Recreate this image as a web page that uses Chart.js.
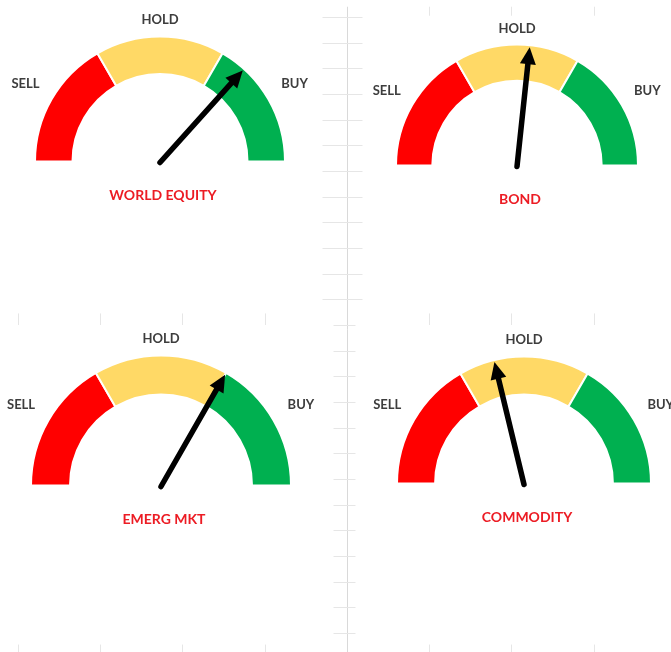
<!DOCTYPE html>
<html>
<head>
<meta charset="utf-8">
<title>Market signals</title>
<script src="https://cdn.jsdelivr.net/npm/chart.js@4.4.1/dist/chart.umd.min.js"></script>
<style>
  html, body { margin: 0; padding: 0; background: #fff; }
  #board { position: relative; width: 671px; height: 652px; overflow: hidden; }
  #board canvas { position: absolute; left: 0; top: 0; }
</style>
</head>
<body>
<div id="board">
  <canvas id="sheet" width="671" height="652"></canvas>
  <canvas id="gauge0" width="671" height="652"></canvas>
  <canvas id="gauge1" width="671" height="652"></canvas>
  <canvas id="gauge2" width="671" height="652"></canvas>
  <canvas id="gauge3" width="671" height="652"></canvas>
</div>
<script>
var gaugeTitles = ['WORLD EQUITY', 'BOND', 'EMERG MKT', 'COMMODITY'];
var zoneLabels = ['SELL', 'HOLD', 'BUY'];
var zoneSizes = [33.3, 33.4, 33.3];
var readings = [73.5, 53.4, 66.7, 42.4];   // needle position on the 0-100 dial

var zoneColors = ['#ff0000', '#ffd966', '#00b050'];

// where each dial sits on the board (centre of the half ring and outer radius)
var gaugeLayout = [
    { cx: 160, cy: 161, r: 124 },
    { cx: 517, cy: 165, r: 120 },
    { cx: 161, cy: 485, r: 129 },
    { cx: 524, cy: 483, r: 126 }
];

var W = 671, H = 652;
var labelFont = 'bold 13px Lato, "Open Sans", sans-serif';
var titleFont = 'bold 14px Lato, "Open Sans", sans-serif';

// faint worksheet axis behind the dials
var sheetAxes = {
    id: 'sheetAxes',
    afterDraw: function (chart) {
        var ctx = chart.ctx;
        var x = chart.scales.x, y = chart.scales.y;
        var ax = Math.round(x.getPixelForValue(4)) + 0.5;
        ctx.save();
        ctx.lineWidth = 1;

        ctx.strokeStyle = '#d9d9d9';
        ctx.beginPath();
        ctx.moveTo(ax, y.getPixelForValue(-0.4));
        ctx.lineTo(ax, chart.height);
        ctx.stroke();

        ctx.strokeStyle = '#e6e6e6';
        ctx.beginPath();
        for (var v = 0; v <= 24; v++) {
            var py = Math.round(y.getPixelForValue(v)) + 0.5;
            if (v < 12) {
                ctx.moveTo(ax - 25, py); ctx.lineTo(ax + 15, py);
            } else {
                ctx.moveTo(ax - 14, py); ctx.lineTo(ax + 8, py);
            }
        }
        var rows = [[-0.4, -0.05, 5], [11.55, 12, 0], [24.45, 25, 0]];
        rows.forEach(function (row) {
            for (var k = row[2]; k <= 7; k++) {
                if (k === 4) continue;
                var px = Math.round(x.getPixelForValue(k)) + 0.5;
                ctx.moveTo(px, y.getPixelForValue(row[0]));
                ctx.lineTo(px, y.getPixelForValue(row[1]));
            }
        });
        ctx.stroke();
        ctx.restore();
    }
};

new Chart(document.getElementById('sheet'), {
    type: 'scatter',
    data: { datasets: [] },
    options: {
        responsive: false,
        animation: false,
        events: [],
        layout: { padding: { left: 18, right: 0, top: 17, bottom: 19 } },
        plugins: { legend: { display: false }, tooltip: { enabled: false } },
        scales: {
            x: { display: false, min: 0, max: 7.94 },
            y: { display: false, reverse: true, min: 0, max: 24 }
        }
    },
    plugins: [sheetAxes]
});

function dialTotal() {
    return zoneSizes.reduce(function (a, b) { return a + b; }, 0);
}

// SELL / HOLD / BUY around the ring and the name underneath
var dialText = {
    id: 'dialText',
    afterDraw: function (chart, args, opts) {
        var arc = chart.getDatasetMeta(0).data[0];
        var ctx = chart.ctx;
        var R = arc.outerRadius;
        var total = dialTotal();
        var cum = 0;
        ctx.save();
        ctx.textAlign = 'center';
        ctx.textBaseline = 'middle';
        ctx.font = labelFont;
        ctx.fillStyle = '#3d3d3d';
        zoneLabels.forEach(function (lbl, i) {
            var mid = (cum + zoneSizes[i] / 2) / total;
            cum += zoneSizes[i];
            var t = Math.PI + mid * Math.PI;
            var d = R * (1.13 + 0.13 * Math.abs(Math.cos(t)));
            ctx.fillText(lbl, arc.x + Math.cos(t) * d, arc.y + Math.sin(t) * d);
        });
        ctx.font = titleFont;
        ctx.fillStyle = '#ec1c24';
        ctx.fillText(opts.title, arc.x + 3, arc.y + 34);
        ctx.restore();
    }
};

var needle = {
    id: 'needle',
    afterDatasetsDraw: function (chart, args, opts) {
        var arc = chart.getDatasetMeta(0).data[0];
        var ctx = chart.ctx;
        var t = Math.PI + opts.value / dialTotal() * Math.PI;
        var cx = Math.cos(t), sy = Math.sin(t);
        var len = arc.outerRadius - 2;
        var tipX = arc.x + cx * len, tipY = arc.y + sy * len;
        var head = 17, hw = 8;
        var bx = tipX - cx * head, by = tipY - sy * head;
        ctx.save();
        ctx.strokeStyle = '#000';
        ctx.fillStyle = '#000';
        ctx.lineWidth = 5.5;
        ctx.lineCap = 'round';
        ctx.beginPath();
        ctx.moveTo(arc.x, arc.y + 1);
        ctx.lineTo(bx + cx * 2, by + sy * 2);
        ctx.stroke();
        ctx.beginPath();
        ctx.moveTo(tipX, tipY);
        ctx.lineTo(bx - sy * hw, by + cx * hw);
        ctx.lineTo(bx + sy * hw, by - cx * hw);
        ctx.closePath();
        ctx.fill();
        ctx.restore();
    }
};

gaugeTitles.forEach(function (title, i) {
    var g = gaugeLayout[i];
    new Chart(document.getElementById('gauge' + i), {
        type: 'doughnut',
        data: {
            labels: zoneLabels,
            datasets: [{
                data: zoneSizes,
                backgroundColor: zoneColors,
                borderColor: '#ffffff',
                borderWidth: 2
            }]
        },
        options: {
            responsive: false,
            animation: false,
            events: [],
            rotation: -90,
            circumference: 180,
            radius: g.r + 1,
            cutout: '70%',
            layout: {
                padding: { left: g.cx - g.r, right: W - g.cx - g.r, top: g.cy - g.r, bottom: H - g.cy }
            },
            plugins: {
                legend: { display: false },
                tooltip: { enabled: false },
                dialText: { title: title },
                needle: { value: readings[i] }
            }
        },
        plugins: [dialText, needle]
    });
});
</script>
</body>
</html>
